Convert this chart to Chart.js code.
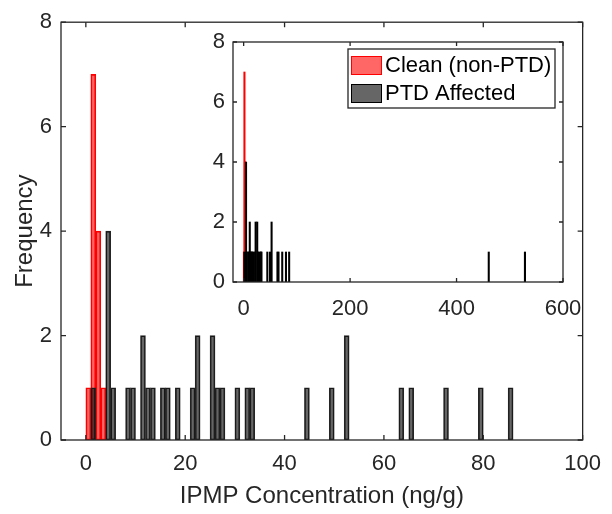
<!DOCTYPE html>
<html>
<head>
<meta charset="utf-8">
<script src="https://cdn.jsdelivr.net/npm/chart.js@4.4.0/dist/chart.umd.min.js"></script>
<style>
  body { margin: 0; background: #fff; }
  #wrap { position: relative; width: 612px; height: 514px; }
  canvas { position: absolute; left: 0; top: 0; }
</style>
</head>
<body>
<div id="wrap">
  <canvas id="mainChart" width="612" height="514"></canvas>
  <canvas id="insetChart" width="612" height="514"></canvas>
</div>
<script>
// histogram bins (left edge, ng/g), bin width 1
const cleanBins = [0, 1, 2, 3];
const cleanCounts = [1, 7, 4, 1];
const ptdBins = [1, 4, 5, 8, 9, 11, 12, 13, 15, 16, 18, 21, 22, 25, 26, 27, 30, 32, 33, 44, 49, 52, 63, 65, 72, 79, 85, 460, 528];
const ptdCounts = [1, 4, 1, 1, 1, 2, 1, 1, 1, 1, 1, 1, 2, 2, 1, 1, 1, 1, 1, 1, 1, 2, 1, 1, 1, 1, 1, 1, 1];
const binWidth = 1;

const mainXTicks = [0, 20, 40, 60, 80, 100];
const mainYTicks = [0, 2, 4, 6, 8];
const insetXTicks = [0, 200, 400, 600];
const insetYTicks = [0, 2, 4, 6, 8];

const seriesNames = ['Clean (non-PTD)', 'PTD Affected'];

const FONT = "'Liberation Sans', Arial, Helvetica, sans-serif";
const AXIS = '#262626';

function toPoints(bins, counts) {
    return bins.map((b, i) => ({ x: b + binWidth / 2, y: counts[i] }));
}

function fixedTicks(values) {
    return function(scale) {
        scale.ticks = values.map(v => ({ value: v }));
    };
}

// box + inward tick marks on all four sides (MATLAB style)
const framePlugin = {
    id: 'frame',
    beforeDatasetsDraw(chart) {
        const { ctx, chartArea: a } = chart;
        ctx.save();
        ctx.fillStyle = '#fff';
        ctx.fillRect(a.left, a.top, a.width, a.height);
        ctx.restore();
    },
    afterDatasetsDraw(chart, args, opts) {
        const { ctx, chartArea: a, scales: { x, y } } = chart;
        const len = opts.tickLen || 5;
        ctx.save();
        ctx.strokeStyle = AXIS;
        ctx.lineWidth = 1.3;
        ctx.beginPath();
        x.ticks.forEach(t => {
            const px = x.getPixelForValue(t.value);
            ctx.moveTo(px, a.bottom); ctx.lineTo(px, a.bottom - len);
            ctx.moveTo(px, a.top); ctx.lineTo(px, a.top + len);
        });
        y.ticks.forEach(t => {
            const py = y.getPixelForValue(t.value);
            ctx.moveTo(a.left, py); ctx.lineTo(a.left + len, py);
            ctx.moveTo(a.right, py); ctx.lineTo(a.right - len, py);
        });
        ctx.stroke();
        ctx.strokeRect(a.left, a.top, a.width, a.height);
        ctx.restore();
    }
};

const legendPlugin = {
    id: 'boxLegend',
    afterDraw(chart) {
        const { ctx, chartArea: a } = chart;
        const w = 207, h = 59;
        const left = a.right - 8 - w, top = a.top + 7;
        ctx.save();
        ctx.fillStyle = '#fff';
        ctx.fillRect(left, top, w, h);
        ctx.strokeStyle = AXIS;
        ctx.lineWidth = 1.3;
        ctx.strokeRect(left, top, w, h);
        const fills = ['rgba(255,0,0,0.6)', 'rgba(0,0,0,0.6)'];
        const edges = ['#ff0000', '#000000'];
        ctx.font = '22px ' + FONT;
        ctx.textBaseline = 'middle';
        seriesNames.forEach((name, i) => {
            const sy = top + 7 + i * 28;
            ctx.fillStyle = '#fff';
            ctx.fillRect(left + 3, sy, 31, 19);
            ctx.fillStyle = fills[i];
            ctx.fillRect(left + 3, sy, 31, 19);
            ctx.strokeStyle = edges[i];
            ctx.lineWidth = 1;
            ctx.strokeRect(left + 3.5, sy + 0.5, 30, 18);
            ctx.fillStyle = '#000';
            ctx.fillText(name, left + 37, sy + 10);
        });
        ctx.restore();
    }
};

function axisOptions(o) {
    return {
        type: 'linear',
        min: o.min,
        max: o.max,
        offset: false,
        afterBuildTicks: fixedTicks(o.ticks),
        afterFit: o.fit,
        grid: { display: false, drawTicks: false, offset: false },
        border: { display: false },
        ticks: {
            autoSkip: false,
            maxRotation: 0,
            padding: o.pad,
            color: AXIS,
            font: { family: FONT, size: 22 }
        },
        title: o.title ? {
            display: true,
            text: o.title,
            color: AXIS,
            font: { family: FONT, size: 24 },
            padding: o.titlePad
        } : { display: false }
    };
}

new Chart(document.getElementById('mainChart'), {
    type: 'bar',
    data: {
        datasets: [
            {
                label: seriesNames[0],
                data: toPoints(cleanBins, cleanCounts),
                backgroundColor: 'rgba(255,0,0,0.6)',
                borderColor: '#ff0000',
                borderWidth: 1,
                borderSkipped: false,
                grouped: false,
                barPercentage: 1,
                categoryPercentage: 1,
                order: 2
            },
            {
                label: seriesNames[1],
                data: toPoints(ptdBins, ptdCounts),
                backgroundColor: 'rgba(0,0,0,0.6)',
                borderColor: '#262626',
                borderWidth: 1,
                borderSkipped: false,
                grouped: false,
                barPercentage: 1,
                categoryPercentage: 1,
                order: 1
            }
        ]
    },
    options: {
        responsive: false,
        animation: false,
        devicePixelRatio: 1,
        layout: { padding: { top: 22, right: 23, left: 0, bottom: 0 } },
        plugins: { legend: { display: false }, tooltip: { enabled: false }, frame: { tickLen: 5 } },
        scales: {
            x: axisOptions({ min: -5, max: 100, ticks: mainXTicks, pad: 11,
                fit: s => { s.height = 74; },
                title: 'IPMP Concentration (ng/g)', titlePad: { top: 0, bottom: 3 } }),
            y: axisOptions({ min: 0, max: 8, ticks: mainYTicks, pad: 9,
                fit: s => { s.width = 61; },
                title: 'Frequency', titlePad: { top: 11, bottom: 0 } })
        }
    },
    plugins: [framePlugin]
});

new Chart(document.getElementById('insetChart'), {
    type: 'bar',
    data: {
        datasets: [
            {
                label: seriesNames[0],
                data: toPoints(cleanBins, cleanCounts),
                backgroundColor: '#ff0000',
                borderWidth: 0,
                grouped: false,
                barThickness: 1.4,
                order: 2
            },
            {
                label: seriesNames[1],
                data: toPoints(ptdBins, ptdCounts),
                backgroundColor: '#000000',
                borderWidth: 0,
                grouped: false,
                barThickness: 1.4,
                order: 1
            }
        ]
    },
    options: {
        responsive: false,
        animation: false,
        devicePixelRatio: 1,
        layout: { padding: { top: 42, right: 49, left: 193, bottom: 192 } },
        plugins: { legend: { display: false }, tooltip: { enabled: false }, frame: { tickLen: 4 } },
        scales: {
            x: axisOptions({ min: -20, max: 600, ticks: insetXTicks, pad: 14,
                fit: s => { s.height = 40; } }),
            y: axisOptions({ min: 0, max: 8, ticks: insetYTicks, pad: 8,
                fit: s => { s.width = 40; } })
        }
    },
    plugins: [framePlugin, legendPlugin]
});
</script>
</body>
</html>
